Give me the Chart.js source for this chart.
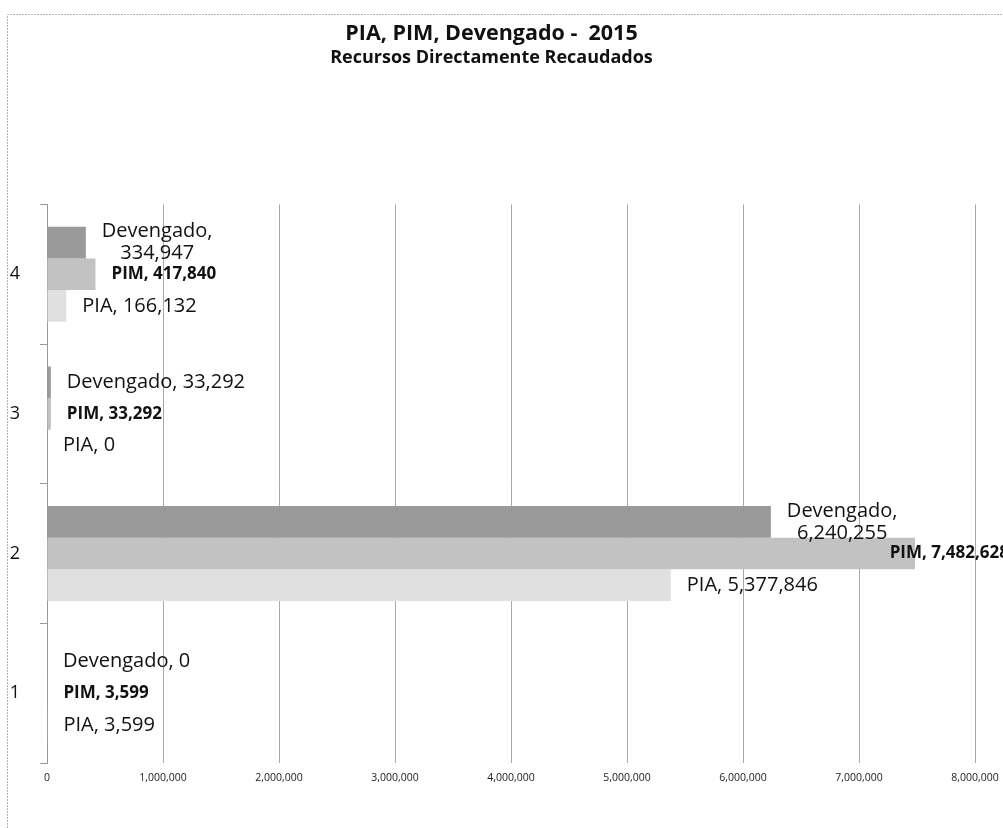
<!DOCTYPE html>
<html>
<head>
<meta charset="utf-8">
<script src="https://cdn.jsdelivr.net/npm/chart.js@4"></script>
<style>
  html, body { margin: 0; padding: 0; background: #fff; }
  #wrap { width: 1003px; height: 828px; position: relative; }
</style>
</head>
<body>
<div id="wrap"><canvas id="chart"></canvas></div>
<script>
// categories bottom -> top (scale is reversed so "4" ends up on top)
const categories = ["1", "2", "3", "4"];
const devengado = [0, 6240255, 33292, 334947];
const pim = [3599, 7482628, 33292, 417840];
const pia = [3599, 5377846, 0, 166132];
const seriesNames = ["Devengado", "PIM", "PIA"];
const xTicks = [0, 1000000, 2000000, 3000000, 4000000, 5000000, 6000000, 7000000, 8000000];
// Devengado labels that Excel wrapped onto two lines
const wrapped = ["2", "4"];

const fmt = (v) => v.toLocaleString("en-US");
const FONT = "'Open Sans', 'Noto Sans', sans-serif";

/* frame round the chart, like the scanned border */
const framePlugin = {
  id: "frame",
  beforeDraw(chart) {
    const c = chart.ctx;
    c.save();
    c.strokeStyle = "#b5b5b5";
    c.setLineDash([2, 1]);
    c.lineWidth = 1;
    c.beginPath();
    c.moveTo(7.5, chart.height);
    c.lineTo(7.5, 14.5);
    c.lineTo(chart.width, 14.5);
    c.stroke();
    c.restore();
  },
};

/* "Series, value" labels to the right of each bar */
const labelPlugin = {
  id: "barLabels",
  afterDatasetsDraw(chart) {
    const c = chart.ctx;
    c.save();
    c.fillStyle = "#111";
    c.textBaseline = "middle";
    chart.data.datasets.forEach((ds, di) => {
      const meta = chart.getDatasetMeta(di);
      const bold = ds.label === "PIM";
      c.font = (bold ? "bold 17px " : "20px ") + FONT;
      meta.data.forEach((bar, i) => {
        const v = ds.data[i];
        let lines = [`${ds.label}, ${fmt(v)}`];
        if (ds.label === "Devengado" && wrapped.includes(categories[i])) lines = [`${ds.label},`, fmt(v)];
        const widths = lines.map((l) => c.measureText(l).width);
        const w = Math.max(...widths);
        let x = bar.x + 16;
        x = Math.min(x, chart.width + 6 - w);
        const lh = 22;
        lines.forEach((l, k) => {
          const y = bar.y + (k - (lines.length - 1) / 2) * lh;
          c.fillText(l, x + (w - widths[k]) / 2, y);
        });
      });
    });
    c.restore();
  },
};

new Chart(document.getElementById("chart"), {
  type: "bar",
  data: {
    labels: categories,
    datasets: [
      { label: seriesNames[0], data: devengado, backgroundColor: "#9a9a9a" },
      { label: seriesNames[1], data: pim, backgroundColor: "#c2c2c2" },
      { label: seriesNames[2], data: pia, backgroundColor: "#e0e0e0" },
    ],
  },
  options: {
    indexAxis: "y",
    responsive: true,
    maintainAspectRatio: false,
    animation: false,
    categoryPercentage: 0.68,
    barPercentage: 1,
    layout: { padding: { left: 8, right: 28, top: 0, bottom: 0 } },
    plugins: {
      legend: { display: false },
      tooltip: { enabled: false },
      title: {
        display: true,
        text: "PIA, PIM, Devengado -  2015",
        color: "#111",
        font: { family: FONT, size: 21.5, weight: "bold" },
        padding: { top: 21, bottom: 0 },
      },
      subtitle: {
        display: true,
        text: "Recursos Directamente Recaudados",
        color: "#111",
        font: { family: FONT, size: 18, weight: "bold" },
        padding: { top: 0, bottom: 136 },
      },
    },
    scales: {
      x: {
        min: 0,
        max: 8000000,
        afterBuildTicks: (s) => { s.ticks = xTicks.map((v) => ({ value: v })); },
        afterFit: (s) => { s.height = 65; s.paddingLeft = 0; s.paddingRight = 0; },
        border: { display: false },
        grid: { color: "#a8a8a8", drawTicks: false },
        ticks: {
          color: "#222",
          padding: 9,
          maxRotation: 0,
          font: { family: FONT, size: 10.5 },
          callback: (v) => fmt(v),
        },
      },
      y: {
        reverse: true,
        afterFit: (s) => { s.width = 39; },
        border: { display: true, color: "#999" },
        grid: { display: true, drawOnChartArea: false, tickLength: 7, color: "#999" },
        ticks: { color: "#111", padding: 20, font: { family: FONT, size: 18 } },
      },
    },
  },
  plugins: [framePlugin, labelPlugin],
});
</script>
</body>
</html>
